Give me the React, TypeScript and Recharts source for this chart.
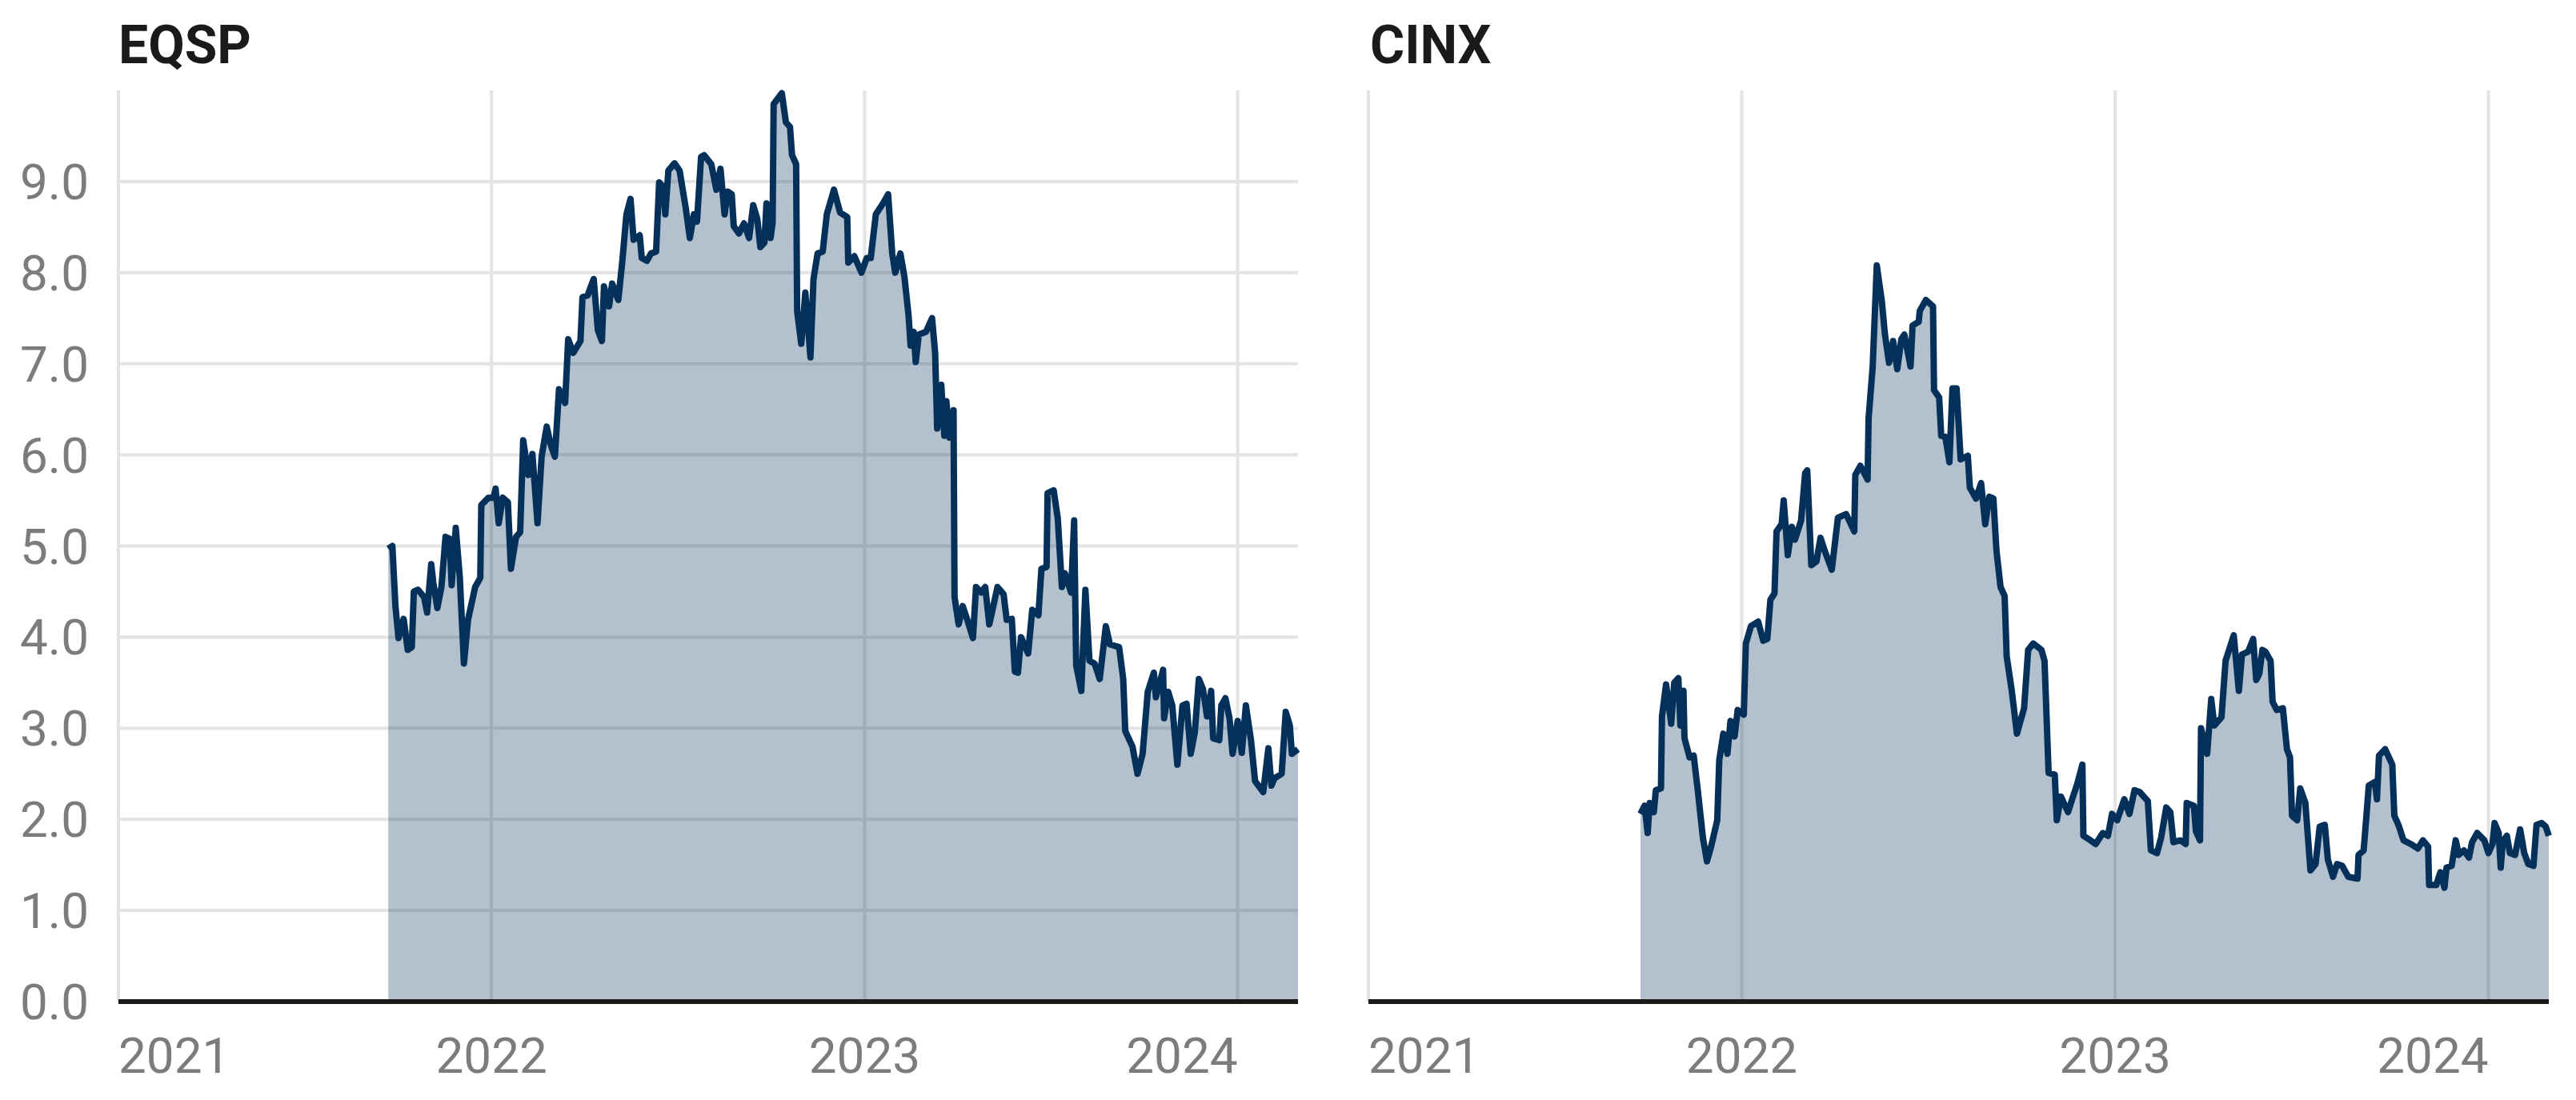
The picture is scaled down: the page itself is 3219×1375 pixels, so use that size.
import React from 'react';
import {
  AreaChart,
  Area,
  XAxis,
  YAxis,
  CartesianGrid,
  ReferenceLine,
} from 'recharts';

// days since 2021-01-01 and closing values
const eqspDays = [
  264, 268, 271, 274, 279, 283, 287, 289, 293, 299, 302, 306, 308, 312, 316, 320, 324, 326, 330, 334,
  338, 342, 349, 354, 355, 362, 367, 369, 372, 376, 381, 384, 389, 393, 396, 401, 405, 410, 414, 419,
  423, 427, 431, 437, 440, 445, 452, 454, 459, 465, 469, 473, 475, 480, 483, 489, 493, 497, 501, 504,
  510, 512, 517, 521, 526, 529, 533, 535, 538, 544, 549, 555, 559, 563, 566, 570, 573, 580, 585, 589,
  593, 596, 600, 602, 607, 612, 617, 621, 625, 628, 632, 634, 638, 640, 641, 649, 653, 657, 659, 663,
  664, 668, 672, 675, 677, 680, 684, 689, 693, 700, 706, 713, 714, 720, 727, 732, 736, 741, 748, 753,
  757, 760, 765, 769, 773, 775, 778, 780, 783, 790, 796, 799, 801, 805, 808, 810, 813, 817, 818, 822,
  826, 831, 836, 839, 844, 848, 852, 860, 866, 869, 874, 877, 880, 883, 890, 894, 900, 903, 908, 909,
  915, 919, 923, 926, 932, 935, 937, 942, 946, 950, 955, 960, 966, 970, 979, 983, 985, 992, 997, 1002,
  1007, 1013, 1015, 1022, 1023, 1027, 1031, 1036, 1041, 1045, 1049, 1053, 1057, 1061, 1065, 1069, 1071, 1077, 1079, 1083,
  1087, 1090, 1095, 1099, 1103, 1108, 1112, 1120, 1125, 1128, 1131, 1138, 1142, 1146, 1148, 1154,
];
const eqspValues = [
  4.97, 5.0, 4.34, 3.99, 4.2, 3.86, 3.89, 4.5, 4.52, 4.44, 4.27, 4.8, 4.6, 4.32, 4.55, 5.1, 5.08, 4.57, 5.2, 4.65,
  3.71, 4.19, 4.55, 4.65, 5.45, 5.53, 5.53, 5.63, 5.25, 5.53, 5.48, 4.75, 5.1, 5.15, 6.16, 5.78, 6.01, 5.25, 5.98, 6.31,
  6.11, 5.98, 6.72, 6.57, 7.27, 7.12, 7.25, 7.73, 7.75, 7.93, 7.37, 7.25, 7.85, 7.63, 7.88, 7.7, 8.13, 8.64, 8.81, 8.36,
  8.41, 8.16, 8.13, 8.21, 8.23, 8.99, 8.94, 8.64, 9.12, 9.2, 9.12, 8.71, 8.38, 8.64, 8.56, 9.27, 9.29, 9.19, 8.91, 9.14,
  8.64, 8.89, 8.86, 8.51, 8.43, 8.54, 8.38, 8.74, 8.59, 8.28, 8.33, 8.76, 8.38, 8.55, 9.85, 9.97, 9.65, 9.6, 9.29, 9.19,
  7.58, 7.22, 7.78, 7.37, 7.07, 7.93, 8.21, 8.23, 8.64, 8.91, 8.66, 8.61, 8.11, 8.18, 8.0, 8.16, 8.16, 8.64, 8.76, 8.86,
  8.21, 8.0, 8.21, 7.95, 7.53, 7.2, 7.35, 7.02, 7.32, 7.35, 7.5, 7.12, 6.29, 6.77, 6.21, 6.59, 6.19, 6.49, 4.44, 4.14,
  4.34, 4.17, 3.99, 4.55, 4.49, 4.55, 4.14, 4.55, 4.47, 4.19, 4.2, 3.62, 3.61, 4.0, 3.82, 4.3, 4.24, 4.75, 4.77, 5.58,
  5.61, 5.3, 4.55, 4.7, 4.49, 5.28, 3.69, 3.41, 4.52, 3.74, 3.71, 3.54, 4.12, 3.92, 3.89, 3.54, 2.97, 2.8, 2.5, 2.72,
  3.4, 3.61, 3.34, 3.64, 3.11, 3.4, 3.25, 2.6, 3.25, 3.27, 2.72, 2.95, 3.54, 3.43, 3.13, 3.41, 2.89, 2.87, 3.25, 3.33,
  3.11, 2.72, 3.08, 2.73, 3.25, 2.87, 2.42, 2.3, 2.78, 2.37, 2.45, 2.5, 3.18, 3.03, 2.72, 2.77,
];

const cinxDays = [
  266, 270, 273, 275, 279, 281, 286, 287, 291, 296, 299, 303, 305, 308, 309, 314, 318, 322, 327, 331,
  335, 341, 343, 347, 351, 354, 358, 361, 367, 369, 374, 381, 386, 390, 393, 397, 399, 404, 406, 410,
  414, 417, 423, 427, 429, 433, 438, 442, 446, 453, 459, 467, 475, 476, 481, 488, 489, 493, 497, 502,
  505, 509, 513, 517, 521, 524, 530, 532, 538, 539, 545, 552, 553, 558, 560, 564, 568, 571, 575, 579,
  586, 588, 594, 599, 603, 607, 611, 614, 618, 622, 624, 629, 634, 641, 645, 650, 658, 661, 665, 671,
  673, 677, 684, 688, 693, 698, 699, 706, 711, 718, 723, 727, 732, 739, 744, 749, 754, 762, 765, 771,
  775, 780, 784, 787, 794, 799, 800, 807, 809, 813, 814, 820, 824, 827, 834, 838, 846, 851, 854, 860,
  865, 868, 871, 874, 877, 882, 884, 888, 894, 898, 901, 903, 908, 911, 916, 921, 926, 930, 935, 938,
  943, 947, 952, 958, 967, 968, 973, 976, 978, 984, 986, 988, 994, 1001, 1003, 1007, 1012, 1019, 1026, 1031,
  1036, 1037, 1044, 1048, 1052, 1054, 1059, 1063, 1066, 1071, 1076, 1079, 1084, 1091, 1095, 1099, 1101, 1105, 1107, 1109,
  1113, 1116, 1121, 1126, 1130, 1134, 1139, 1142, 1147, 1151, 1154,
];
const cinxValues = [
  2.06, 2.15, 1.85, 2.18, 2.08, 2.32, 2.34, 3.13, 3.48, 3.05, 3.5, 3.55, 3.03, 3.41, 2.89, 2.68, 2.7, 2.32, 1.8, 1.54,
  1.7, 1.99, 2.65, 2.94, 2.72, 3.08, 2.91, 3.2, 3.15, 3.93, 4.12, 4.17, 3.96, 3.98, 4.41, 4.48, 5.16, 5.24, 5.5, 4.9,
  5.21, 5.07, 5.28, 5.8, 5.83, 4.79, 4.83, 5.09, 4.95, 4.74, 5.31, 5.35, 5.16, 5.78, 5.88, 5.73, 6.4, 6.97, 8.08, 7.68,
  7.32, 7.01, 7.25, 6.94, 7.27, 7.32, 6.97, 7.42, 7.46, 7.58, 7.7, 7.63, 6.71, 6.63, 6.21, 6.2, 5.92, 6.73, 6.73, 5.95,
  5.99, 5.64, 5.52, 5.69, 5.24, 5.54, 5.52, 4.95, 4.55, 4.45, 3.79, 3.41, 2.94, 3.22, 3.86, 3.93, 3.86, 3.74, 2.51, 2.49,
  1.99, 2.25, 2.08, 2.22, 2.39, 2.6, 1.82, 1.77, 1.73, 1.85, 1.82, 2.06, 1.99, 2.22, 2.06, 2.32, 2.3, 2.2, 1.66, 1.63,
  1.8, 2.13, 2.08, 1.75, 1.77, 1.73, 2.18, 2.15, 1.87, 1.77, 3.0, 2.72, 3.32, 3.03, 3.12, 3.74, 4.02, 3.41, 3.81, 3.84,
  3.98, 3.53, 3.6, 3.86, 3.84, 3.74, 3.29, 3.2, 3.22, 2.77, 2.68, 2.04, 1.99, 2.34, 2.18, 1.44, 1.51, 1.92, 1.94, 1.56,
  1.37, 1.51, 1.49, 1.37, 1.35, 1.61, 1.66, 2.08, 2.37, 2.41, 2.22, 2.7, 2.77, 2.6, 2.04, 1.94, 1.77, 1.73, 1.68, 1.77,
  1.7, 1.28, 1.28, 1.42, 1.25, 1.47, 1.49, 1.77, 1.61, 1.66, 1.58, 1.75, 1.85, 1.77, 1.63, 1.73, 1.96, 1.85, 1.47, 1.75,
  1.82, 1.63, 1.61, 1.89, 1.63, 1.51, 1.49, 1.94, 1.96, 1.92, 1.82,
];

const yearTicks = [0, 365, 730, 1095];
const yearLabels = ['2021', '2022', '2023', '2024'];
const valueTicks = [0, 1, 2, 3, 4, 5, 6, 7, 8, 9];

const FONT = 'Roboto, sans-serif';
const NAVY = '#04305a';
const GRID = '#e4e4e4';
const LABEL = '#7c7c7c';

const toRows = (days: number[], values: number[]) =>
  days.map((d, i) => ({ day: d, value: values[i] }));

function YearTick(props: any) {
  const { x, y, payload, index } = props;
  const anchor = index === 0 ? 'start' : index === yearTicks.length - 1 ? 'end' : 'middle';
  const label = yearLabels[yearTicks.indexOf(payload.value)];
  return (
    <text x={x} y={y} dy="0.71em" textAnchor={anchor} fill={LABEL} fontSize={62} fontFamily={FONT}>
      {label}
    </text>
  );
}

function ValueTick(props: any) {
  const { x, y, payload } = props;
  return (
    <text x={x} y={y} dy="0.355em" textAnchor="end" fill={LABEL} fontSize={62} fontFamily={FONT}>
      {Number(payload.value).toFixed(1)}
    </text>
  );
}

function Panel({
  rows,
  width,
  showValues,
}: {
  rows: { day: number; value: number }[];
  width: number;
  showValues: boolean;
}) {
  return (
    <AreaChart
      width={width}
      height={1375}
      data={rows}
      margin={{ top: 113, right: showValues ? 18 : 20, bottom: 0, left: 0 }}
    >
      <CartesianGrid
        stroke={GRID}
        strokeWidth={4}
        horizontalValues={valueTicks}
        verticalValues={yearTicks}
      />
      <XAxis
        type="number"
        dataKey="day"
        domain={[0, 1154]}
        ticks={yearTicks}
        height={123}
        tickSize={0}
        tickMargin={45}
        axisLine={false}
        tickLine={false}
        tick={<YearTick />}
        interval={0}
      />
      <YAxis
        type="number"
        domain={[0, 10]}
        ticks={valueTicks}
        width={showValues ? 148 : 20}
        tickSize={0}
        tickMargin={37}
        axisLine={false}
        tickLine={false}
        tick={showValues ? <ValueTick /> : false}
        interval={0}
      />
      <Area
        type="linear"
        dataKey="value"
        stroke={NAVY}
        strokeWidth={8}
        strokeLinejoin="round"
        fill={NAVY}
        fillOpacity={0.3}
        dot={false}
        activeDot={false}
        isAnimationActive={false}
      />
      <ReferenceLine y={0} stroke="#1a1a1a" strokeWidth={6} />
    </AreaChart>
  );
}

const titleStyle: React.CSSProperties = {
  position: 'absolute',
  top: 24,
  fontFamily: FONT,
  fontWeight: 700,
  fontSize: 66,
  lineHeight: '66px',
  color: '#1a1a1a',
};

export default function App() {
  return (
    <div
      style={{
        position: 'absolute',
        left: 0,
        top: 0,
        width: 3219,
        height: 1375,
        background: '#fff',
        overflow: 'hidden',
      }}
    >
      <div style={{ position: 'absolute', left: 0, top: 0 }}>
        <Panel rows={toRows(eqspDays, eqspValues)} width={1640} showValues />
      </div>
      <div style={{ position: 'absolute', left: 1690, top: 0 }}>
        <Panel rows={toRows(cinxDays, cinxValues)} width={1515} showValues={false} />
      </div>
      <div style={{ ...titleStyle, left: 148 }}>EQSP</div>
      <div style={{ ...titleStyle, left: 1712 }}>CINX</div>
    </div>
  );
}
